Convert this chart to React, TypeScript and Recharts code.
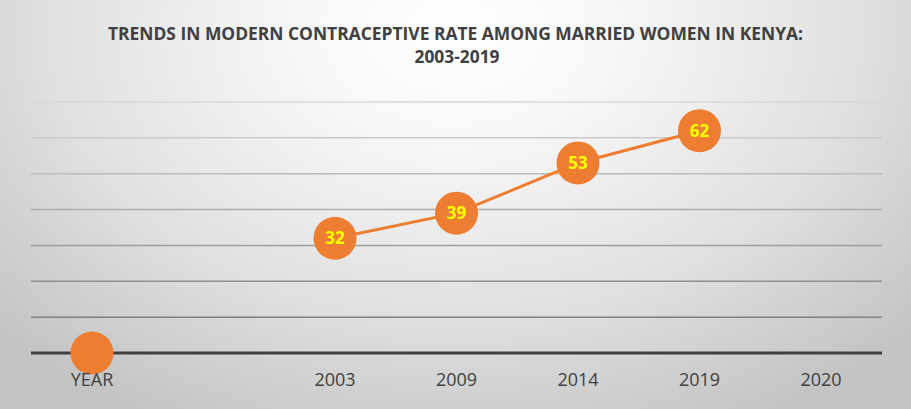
import React from "react";
import {
  LineChart,
  Line,
  XAxis,
  YAxis,
  CartesianGrid,
  LabelList,
} from "recharts";

const years = ["YEAR", "", "2003", "2009", "2014", "2019", "2020"];
const rates: (number | null)[] = [0, null, 32, 39, 53, 62, null];
const yTicks = [0, 10, 20, 30, 40, 50, 60, 70];
const titleLines = [
  "TRENDS IN MODERN CONTRACEPTIVE RATE AMONG MARRIED WOMEN IN KENYA:",
  "2003-2019",
];

const data = years.map((year, i) => ({ year, rate: rates[i] }));

const ORANGE = "#ED7D31";
const FONT = "'Open Sans', sans-serif";

function YearTick({ x, y, payload }: any) {
  return (
    <text
      x={x}
      y={y + 33}
      textAnchor="middle"
      fontFamily={FONT}
      fontSize={18}
      fill="#404040"
    >
      {payload.value}
    </text>
  );
}

function Dot({ cx, cy, value, index }: any) {
  if (value == null || cx == null || cy == null) return <g key={index} />;
  return <circle key={index} cx={cx} cy={cy} r={21.5} fill={ORANGE} />;
}

function RateLabel({ x, y, value, index }: any) {
  // the YEAR marker carries no label
  if (value == null || index === 0) return null;
  return (
    <text
      x={x}
      y={y}
      dy={6}
      textAnchor="middle"
      fontFamily={FONT}
      fontWeight={700}
      fontSize={17}
      fill="#FFFF00"
    >
      {value}
    </text>
  );
}

export default function App() {
  return (
    <div
      style={{
        position: "absolute",
        left: 0,
        top: 0,
        width: 911,
        height: 409,
        background:
          "radial-gradient(ellipse 620px 440px at 455px 30px, #ffffff 0%, #f7f7f7 25%, #ececec 45%, #e0e0e0 65%, #d2d2d2 82%, #c4c4c4 100%)",
      }}
    >
      <LineChart
        width={911}
        height={409}
        data={data}
        margin={{ top: 102, right: 29, bottom: 16, left: 31 }}
      >
        <defs>
          <linearGradient
            id="gridGrad"
            gradientUnits="userSpaceOnUse"
            x1={0}
            y1={102}
            x2={0}
            y2={320}
          >
            <stop offset="0%" stopColor="#d8d8d8" />
            <stop offset="100%" stopColor="#7f7f7f" />
          </linearGradient>
        </defs>
        <text
          x={455.5}
          y={40}
          textAnchor="middle"
          fontFamily={FONT}
          fontWeight={700}
          fontSize={18}
          fill="#404040"
          textLength={695}
          lengthAdjust="spacingAndGlyphs"
        >
          {titleLines[0]}
        </text>
        <text
          x={457}
          y={63}
          textAnchor="middle"
          fontFamily={FONT}
          fontWeight={700}
          fontSize={18}
          fill="#404040"
          textLength={85}
          lengthAdjust="spacingAndGlyphs"
        >
          {titleLines[1]}
        </text>
        <CartesianGrid
          vertical={false}
          stroke="url(#gridGrad)"
          strokeWidth={1.5}
        />
        <YAxis hide domain={[0, 70]} ticks={yTicks} />
        <XAxis
          dataKey="year"
          height={40}
          padding={{ left: 61, right: 61 }}
          tickLine={false}
          tickSize={0}
          tickMargin={0}
          axisLine={{ stroke: "#404040", strokeWidth: 3 }}
          tick={<YearTick />}
          interval={0}
        />
        <Line
          dataKey="rate"
          stroke={ORANGE}
          strokeWidth={3}
          dot={<Dot />}
          activeDot={false}
          connectNulls={false}
          isAnimationActive={false}
        >
          <LabelList dataKey="rate" content={<RateLabel />} />
        </Line>
      </LineChart>
    </div>
  );
}
